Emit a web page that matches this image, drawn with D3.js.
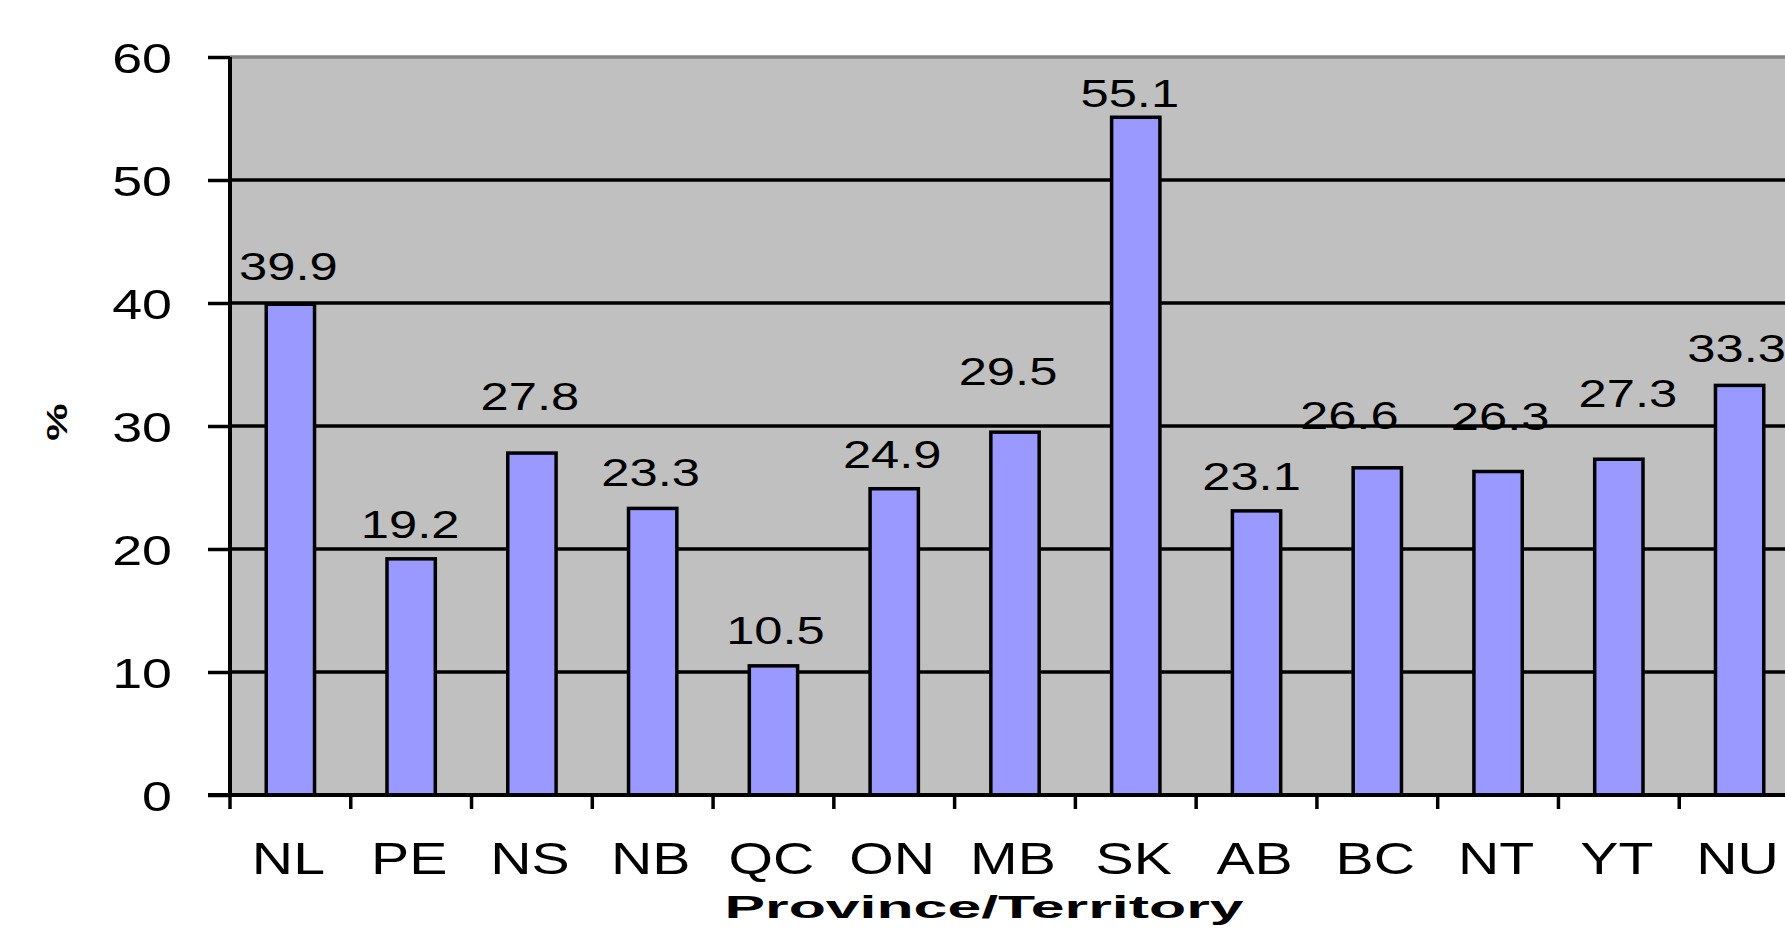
<!DOCTYPE html>
<html>
<head>
<meta charset="utf-8">
<script src="https://cdn.jsdelivr.net/npm/d3@7/dist/d3.min.js"></script>
<style>
  html, body { margin: 0; padding: 0; background: #ffffff; overflow: hidden; }
  svg { display: block; }
  text { font-family: "Liberation Sans", Arial, sans-serif; fill: #000; }
</style>
</head>
<body>
<svg id="chart" width="1785" height="932"></svg>
<script>
// Share by province / territory (%)
const categories = ["NL", "PE", "NS", "NB", "QC", "ON", "MB", "SK", "AB", "BC", "NT", "YT", "NU"];
const values = [39.9, 19.2, 27.8, 23.3, 10.5, 24.9, 29.5, 55.1, 23.1, 26.6, 26.3, 27.3, 33.3];
const yTicks = [0, 10, 20, 30, 40, 50, 60];
const yTitle = "%";
const xTitle = "Province/Territory";

// Hand-placed data label nudges: horizontal shift and height of baseline above bar top (px)
const labelDx = [-2, -1, -2, -2, 2, -2, -7, -6, -5, -28, 2, 9, -3];
const labelLift = [24, 21, 43, 22, 22, 21, 47, 10, 21, 39, 42, 52, 23];

const plot = { left: 230, right: 1800, top: 57, bottom: 795 };

const svg = d3.select("#chart");

const x = d3.scaleBand().domain(categories).range([plot.left, plot.right]).padding(0);
const y = d3.scaleLinear().domain([0, 60]).range([plot.bottom, plot.top]);
const barW = x.bandwidth() / 2.5;

// horizontally stretched text helper (old bitmap-style wide lettering)
function wideText(parent, tx, ty, str, opts) {
  const g = parent.append("g").attr("transform", `translate(${tx},${ty})` + (opts.rotate ? ` rotate(${opts.rotate})` : ""));
  g.append("text")
    .attr("transform", `scale(${opts.sx},1)`)
    .attr("text-anchor", opts.anchor || "middle")
    .attr("font-size", opts.size)
    .attr("font-weight", opts.weight || "normal")
    .text(str);
  return g;
}

// plot background
svg.append("rect")
  .attr("x", plot.left).attr("y", plot.top)
  .attr("width", plot.right - plot.left).attr("height", plot.bottom - plot.top)
  .attr("fill", "#c0c0c0");

// top border of plot area
svg.append("line")
  .attr("x1", plot.left).attr("x2", plot.right)
  .attr("y1", y(60)).attr("y2", y(60))
  .attr("stroke", "#858585").attr("stroke-width", 3.5);

// value labels
const labels = svg.append("g");
categories.forEach((c, i) => {
  const cx = x(c) + x.bandwidth() / 2 + labelDx[i];
  wideText(labels, cx, y(values[i]) - labelLift[i], values[i].toFixed(1), { sx: 1.3, size: 39 });
});

// gridlines
svg.append("g").selectAll("line")
  .data(yTicks.filter(t => t > 0 && t < 60))
  .join("line")
  .attr("x1", plot.left).attr("x2", plot.right)
  .attr("y1", d => y(d)).attr("y2", d => y(d))
  .attr("stroke", "#000").attr("stroke-width", 3.5);

// bars
svg.append("g").selectAll("rect")
  .data(categories)
  .join("rect")
  .attr("x", d => x(d) + x.bandwidth() / 2 - barW / 2)
  .attr("width", barW)
  .attr("y", (d, i) => y(values[i]))
  .attr("height", (d, i) => y(0) - y(values[i]))
  .attr("fill", "#9999ff")
  .attr("stroke", "#000")
  .attr("stroke-width", 3.5);

// y axis
const yAxis = svg.append("g")
  .attr("transform", `translate(${plot.left},0)`)
  .call(d3.axisLeft(y).tickValues(yTicks).tickSize(22).tickFormat(""));
yAxis.select(".domain").attr("stroke", "#000").attr("stroke-width", 4)
  .attr("d", `M0,${plot.top}V${plot.bottom}`);
yAxis.selectAll(".tick line").attr("stroke", "#000").attr("stroke-width", 3.5);
yTicks.forEach(t => {
  wideText(svg, plot.left - 58, y(t) + 16, String(t), { sx: 1.25, size: 43, anchor: "end" });
});

// x axis
svg.append("line")
  .attr("x1", plot.left - 22).attr("x2", plot.right)
  .attr("y1", plot.bottom).attr("y2", plot.bottom)
  .attr("stroke", "#000").attr("stroke-width", 4);
const edges = categories.map(c => x(c)).concat([plot.right]);
svg.append("g").selectAll("line")
  .data(edges)
  .join("line")
  .attr("x1", d => d).attr("x2", d => d)
  .attr("y1", plot.bottom).attr("y2", plot.bottom + 14)
  .attr("stroke", "#000").attr("stroke-width", 3.5);
categories.forEach(c => {
  wideText(svg, x(c) + x.bandwidth() / 2 - 2, 874, c, { sx: 1.3, size: 44 });
});

// axis titles
wideText(svg, 984, 918, xTitle, { sx: 1.9, size: 32, weight: "bold" });
wideText(svg, 67, 422, yTitle, { sx: 1.4, size: 30, weight: "bold", rotate: -90 });
</script>
</body>
</html>
